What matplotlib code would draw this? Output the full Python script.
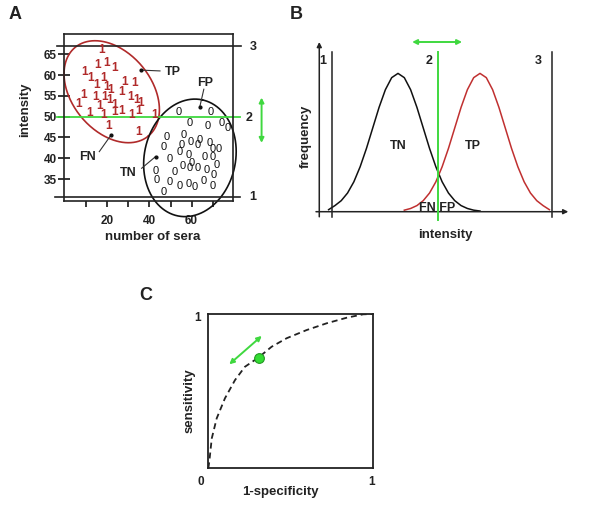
import numpy as np
import matplotlib
matplotlib.use('Agg')
import matplotlib.pyplot as plt

plt.rcParams['font.family'] = ['Liberation Sans', 'DejaVu Sans']

# ---------------- Panel A data ----------------
red_x = [17.3, 15.3, 19.7, 23.3, 9.4, 12.1, 15.0, 18.4, 19.7, 21.6, 28.1, 33.1,
         26.8, 31.1, 8.6, 6.3, 14.2, 18.9, 20.9, 33.9, 23.6, 16.2, 35.8, 11.8,
         18.1, 23.3, 26.8, 31.6, 35.0, 42.6, 20.5, 34.7]
red_y = [66.0, 62.4, 62.8, 61.6, 60.7, 59.4, 57.6, 59.2, 57.2, 56.4, 58.4, 58.0,
         56.0, 54.8, 55.2, 53.0, 54.8, 54.8, 54.0, 54.0, 52.8, 52.6, 53.2, 50.8,
         50.4, 51.2, 51.4, 50.4, 51.4, 50.4, 47.8, 46.4]
black_x = [54.1, 69.0, 58.9, 67.6, 74.2, 77.3, 48.2, 56.4, 46.9, 55.3, 59.7, 63.9,
           62.7, 68.7, 70.0, 72.9, 54.5, 58.4, 66.0, 70.2, 49.7, 60.0, 55.7, 71.8,
           43.1, 52.1, 58.9, 62.7, 67.1, 70.6, 43.4, 49.4, 54.5, 58.4, 61.6, 65.5,
           70.0, 46.9]
black_y = [51.1, 51.1, 48.4, 47.8, 48.6, 47.2, 45.0, 45.6, 42.8, 43.2, 44.0, 44.4,
           43.2, 43.6, 42.2, 42.2, 41.6, 40.8, 40.2, 40.4, 39.8, 38.8, 38.2, 38.4,
           36.9, 36.8, 37.7, 37.6, 37.2, 36.0, 34.8, 34.2, 33.4, 33.8, 33.2, 34.5,
           33.4, 32.0]
a_yticks = [35, 40, 45, 50, 55, 60, 65]
a_xticks = [10, 20, 30, 40, 50, 60, 70]
a_xticklabels = ['', '20', '', '40', '', '60', '']
a_cutoffs = [30.6, 50.0, 66.9]
a_cutoff_labels = ['1', '2', '3']

# ---------------- Panel B data ----------------
tn_x = [0.5, 0.75, 1.0, 1.25, 1.5, 1.75, 2.0, 2.25, 2.5, 2.75, 3.0, 3.25, 3.5,
        3.75, 4.0, 4.25, 4.5, 4.75, 5.0, 5.25, 5.5, 5.75, 6.0, 6.25, 6.5]
tn_y = [0.012, 0.036, 0.065, 0.110, 0.176, 0.265, 0.373, 0.494, 0.615, 0.719,
        0.790, 0.815, 0.790, 0.719, 0.615, 0.494, 0.373, 0.265, 0.176, 0.110,
        0.065, 0.036, 0.019, 0.009, 0.004]
tp_x = [3.5, 3.75, 4.0, 4.25, 4.5, 4.75, 5.0, 5.25, 5.5, 5.75, 6.0, 6.25, 6.5,
        6.75, 7.0, 7.25, 7.5, 7.75, 8.0, 8.25, 8.5, 8.75, 9.0, 9.25]
tp_y = [0.009, 0.019, 0.036, 0.065, 0.110, 0.176, 0.265, 0.373, 0.494, 0.615,
        0.719, 0.790, 0.815, 0.790, 0.719, 0.615, 0.494, 0.373, 0.265, 0.176,
        0.110, 0.065, 0.036, 0.012]
b_cutoffs = [0.62, 4.85, 9.35]
b_cutoff_labels = ['1', '2', '3']

# ---------------- Panel C data ----------------
roc_fpr = [0.0, 0.006, 0.021, 0.051, 0.101, 0.162, 0.222, 0.303, 0.384, 0.475,
           0.596, 0.718, 0.839, 0.939, 1.0]
roc_tpr = [0.0, 0.043, 0.194, 0.324, 0.454, 0.572, 0.658, 0.717, 0.788, 0.843,
           0.896, 0.940, 0.976, 0.998, 1.0]
op_fpr, op_tpr = 0.305, 0.718

GREEN = '#3fd83f'
RED = '#b02a2a'
TXT = '#222222'

fig = plt.figure(figsize=(6.0, 5.13), dpi=100)
W, H = 600, 513


def ax_rect(l, r, t, b):
    return [l / W, (H - b) / H, (r - l) / W, (b - t) / H]


def ellipse_curve(ax, cx, cy, a_px, b_px, ang_deg):
    bb = ax.get_position()
    wpx = W * bb.width
    hpx = H * bb.height
    x0, x1 = ax.get_xlim()
    y0, y1 = ax.get_ylim()
    sx = wpx / (x1 - x0)
    sy = hpx / (y1 - y0)
    t = np.linspace(0, 2 * np.pi, 300)
    th = np.radians(ang_deg)
    u = a_px * np.cos(t)
    v = b_px * np.sin(t)
    px = u * np.cos(th) - v * np.sin(th)
    py = u * np.sin(th) + v * np.cos(th)
    return cx + px / sx, cy + py / sy


# ================= Panel A =================
axA = fig.add_axes(ax_rect(64.3, 232.7, 33.5, 200.7))
axA.set_xlim(-0.4, 79.5)
axA.set_ylim(29.8, 70.0)
for s in axA.spines.values():
    s.set_linewidth(1.2)
    s.set_color('#222222')
axA.set_yticks(a_yticks)
axA.set_yticklabels([str(v) for v in a_yticks], fontsize=8.5, fontweight='bold', color=TXT)
axA.set_xticks(a_xticks)
axA.set_xticklabels(a_xticklabels, fontsize=8.5, fontweight='bold', color=TXT)
axA.tick_params(axis='y', direction='inout', length=8, width=1.1, pad=1.5)
axA.tick_params(axis='x', direction='out', length=4.5, width=1.1, pad=6)
axA.text(0.527, -0.217, 'number of sera', transform=axA.transAxes, fontsize=9.5,
         fontweight='bold', color=TXT, ha='center', va='center')
axA.text(-0.233, 0.542, 'intensity', transform=axA.transAxes, fontsize=9.5, rotation=90,
         fontweight='bold', color=TXT, ha='center', va='center')

for x, y in zip(red_x, red_y):
    axA.text(x, y, '1', color=RED, fontsize=8.5, fontweight='bold', ha='center', va='center')
for x, y in zip(black_x, black_y):
    axA.text(x, y, '0', color='#111111', fontsize=8, ha='center', va='center')

ex, ey = ellipse_curve(axA, 22.1, 56.0, 57.5, 39.6, -50.4)
axA.plot(ex, ey, color=RED, lw=1.2, clip_on=False)
ex, ey = ellipse_curve(axA, 59.2, 40.1, 59.3, 45.6, 78)
axA.plot(ex, ey, color='#111111', lw=1.2, clip_on=False)

# cut-off lines
axA.plot([-4.8, 82.9], [a_cutoffs[0]] * 2, color='#222222', lw=1.2, clip_on=False)
axA.plot([-3.7, 82.9], [a_cutoffs[1]] * 2, color=GREEN, lw=1.3, clip_on=False)
axA.plot([-4.0, 83.4], [a_cutoffs[2]] * 2, color='#222222', lw=1.2, clip_on=False)
for lab, y, x in zip(a_cutoff_labels, [30.6, 49.7, 66.7], [89.2, 87.3, 89.2]):
    axA.text(x, y, lab, fontsize=9, fontweight='bold', color=TXT, ha='center', va='center',
             clip_on=False)
axA.annotate('', xy=(93.2, 54.6), xytext=(93.2, 43.7), annotation_clip=False,
             arrowprops=dict(arrowstyle='<|-|>', color=GREEN, lw=1.4, mutation_scale=7,
                             shrinkA=0, shrinkB=0))

# region annotations
ann = [('TP', (51.3, 60.8), (45.0, 61.0), (36.0, 61.2)),
       ('FP', (66.6, 58.0), (65.8, 56.6), (63.9, 52.4)),
       ('FN', (10.5, 40.4), (16.2, 41.6), (21.8, 45.6)),
       ('TN', (30.0, 36.4), (36.3, 37.6), (42.9, 40.4))]
for lab, tp, p0, p1 in ann:
    axA.text(tp[0], tp[1], lab, fontsize=9, fontweight='bold', color=TXT, ha='center', va='center')
    axA.plot([p0[0], p1[0]], [p0[1], p1[1]], color='#333333', lw=0.8)
    axA.plot([p1[0]], [p1[1]], 'o', color='#111111', ms=2)

# ================= Panel B =================
axB = fig.add_axes(ax_rect(316, 568.3, 42, 211.7))
axB.set_xlim(0, 10)
axB.set_ylim(0, 1)
axB.axis('off')
axB.plot(tn_x, tn_y, color='#111111', lw=1.1, clip_on=False)
axB.plot(tp_x, tp_y, color='#c03030', lw=1.1, clip_on=False)
axB.annotate('', xy=(10.0, 0), xytext=(0, 0), annotation_clip=False,
             arrowprops=dict(arrowstyle='-|>', color='#222222', lw=1.1, mutation_scale=7,
                             shrinkA=0, shrinkB=0))
axB.annotate('', xy=(0.13, 1.0), xytext=(0.13, -0.03), annotation_clip=False,
             arrowprops=dict(arrowstyle='-|>', color='#222222', lw=1.1, mutation_scale=7,
                             shrinkA=0, shrinkB=0))
axB.plot([b_cutoffs[0]] * 2, [-0.03, 0.94], color='#222222', lw=1.1, clip_on=False)
axB.plot([b_cutoffs[2]] * 2, [-0.03, 0.94], color='#222222', lw=1.1, clip_on=False)
axB.text(4.8, 0.02, 'FN FP', fontsize=9, fontweight='bold', color=TXT, ha='center', va='center')
axB.plot([b_cutoffs[1]] * 2, [-0.05, 0.94], color=GREEN, lw=1.4, clip_on=False, zorder=5)
for lab, x in zip(b_cutoff_labels, [0.28, 4.48, 8.81]):
    axB.text(x, 0.89, lab, fontsize=9, fontweight='bold', color=TXT, ha='center', va='center')
axB.annotate('', xy=(5.79, 1.0), xytext=(3.81, 1.0), annotation_clip=False,
             arrowprops=dict(arrowstyle='<|-|>', color=GREEN, lw=1.4, mutation_scale=7,
                             shrinkA=0, shrinkB=0))
axB.text(3.25, 0.39, 'TN', fontsize=9, fontweight='bold', color=TXT, ha='center', va='center')
axB.text(6.23, 0.39, 'TP', fontsize=9, fontweight='bold', color=TXT, ha='center', va='center')
axB.text(-0.40, 0.446, 'frequency', fontsize=9.5, fontweight='bold', color=TXT, rotation=90,
         ha='center', va='center')
axB.text(5.12, -0.137, 'intensity', fontsize=9.5, fontweight='bold', color=TXT,
         ha='center', va='center')

# ================= Panel C =================
axC = fig.add_axes(ax_rect(208.3, 373.3, 314, 468.3))
axC.set_xlim(0, 1)
axC.set_ylim(0, 1)
axC.set_xticks([])
axC.set_yticks([])
for s in axC.spines.values():
    s.set_linewidth(1.3)
    s.set_color('#222222')
axC.plot(roc_fpr, roc_tpr, color='#222222', lw=1.3, ls=(0, (3.3, 2.2)))
axC.plot([op_fpr], [op_tpr], 'o', ms=7, mfc='#33dd33', mec='#229922', mew=0.8)
axC.annotate('', xy=(0.324, 0.858), xytext=(0.127, 0.674), annotation_clip=False,
             arrowprops=dict(arrowstyle='<|-|>', color=GREEN, lw=1.4, mutation_scale=7,
                             shrinkA=0, shrinkB=0))
axC.text(-0.068, 0.974, '1', fontsize=8.5, fontweight='bold', color=TXT, ha='center', va='center')
axC.text(-0.044, -0.089, '0', fontsize=8.5, fontweight='bold', color=TXT, ha='center', va='center')
axC.text(0.992, -0.089, '1', fontsize=8.5, fontweight='bold', color=TXT, ha='center', va='center')
axC.text(-0.111, 0.44, 'sensitivity', fontsize=9.5, fontweight='bold', color=TXT, rotation=90,
         ha='center', va='center')
axC.text(0.435, -0.153, '1-specificity', fontsize=9.5, fontweight='bold', color=TXT,
         ha='center', va='center')

# panel letters
fig.text(15 / W, 1 - 15 / H, 'A', fontsize=13, fontweight='bold', color=TXT, ha='center', va='center')
fig.text(296.7 / W, 1 - 15 / H, 'B', fontsize=13, fontweight='bold', color=TXT, ha='center', va='center')
fig.text(146 / W, 1 - 295 / H, 'C', fontsize=13, fontweight='bold', color=TXT, ha='center', va='center')

fig.savefig('out.png', dpi=100)
